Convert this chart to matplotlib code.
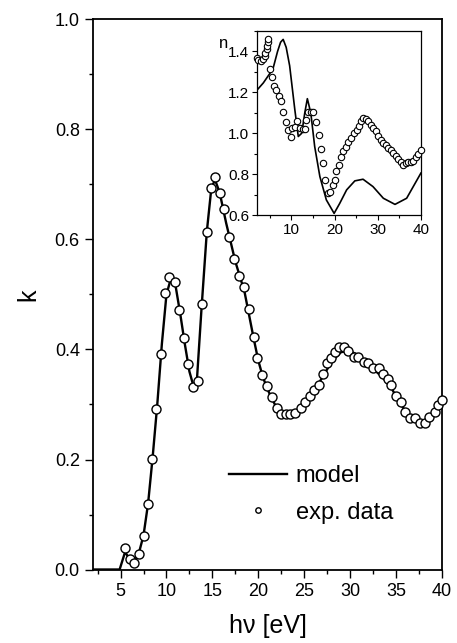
import numpy as np
import matplotlib
matplotlib.use("Agg")
import matplotlib.pyplot as plt
from matplotlib.ticker import MultipleLocator, FormatStrFormatter

plt.rcParams['font.family'] = ['Liberation Sans', 'DejaVu Sans']

# k(hv): experimental points and model curve
exp_e = [5.5, 6.0, 6.5, 7.0, 7.5, 8.0, 8.4, 8.9, 9.4, 9.8, 10.3, 10.9, 11.4,
         11.9, 12.4, 12.9, 13.4, 13.9, 14.4, 14.8, 15.3, 15.8, 16.3, 16.8,
         17.4, 17.9, 18.4, 19.0, 19.5, 19.9, 20.4, 21.0, 21.5, 22.0, 22.5,
         23.0, 23.5, 24.0, 24.6, 25.1, 25.6, 26.1, 26.6, 27.0, 27.5, 27.9,
         28.4, 28.8, 29.3, 29.8, 30.4, 30.9, 31.5, 32.0, 32.5, 33.1, 33.6,
         34.1, 34.5, 35.0, 35.5, 36.0, 36.5, 37.1, 37.6, 38.2, 38.6, 39.2,
         39.6, 40.0]
exp_k = [0.040, 0.019, 0.011, 0.029, 0.061, 0.120, 0.201, 0.291, 0.392, 0.502,
         0.532, 0.523, 0.472, 0.421, 0.373, 0.332, 0.343, 0.483, 0.613, 0.694,
         0.714, 0.684, 0.655, 0.604, 0.564, 0.534, 0.514, 0.473, 0.423, 0.384,
         0.354, 0.334, 0.313, 0.294, 0.283, 0.283, 0.283, 0.284, 0.294, 0.305,
         0.316, 0.326, 0.336, 0.355, 0.375, 0.385, 0.396, 0.405, 0.405, 0.397,
         0.387, 0.387, 0.378, 0.375, 0.366, 0.366, 0.355, 0.346, 0.335, 0.316,
         0.305, 0.286, 0.275, 0.275, 0.266, 0.266, 0.278, 0.287, 0.299, 0.308]

model_e = [2.0, 4.9, 5.5, 6.0, 6.4, 7.0, 7.5, 8.0, 8.5, 9.0, 9.5, 10.0, 10.5,
           11.0, 11.5, 12.0, 12.5, 13.0, 13.3, 13.8, 14.4, 14.9, 15.3, 15.8,
           16.5, 17.5, 18.5, 19.5, 20.0, 20.5, 21.0, 21.5, 22.0, 22.5, 23.2,
           24.0, 25.0, 26.0, 27.0, 28.0, 29.0, 29.8, 30.5, 31.5, 32.5, 33.5,
           34.5, 35.5, 36.5, 37.5, 38.3, 39.0, 40.0]
model_k = [0.0, 0.0, 0.032, 0.018, 0.012, 0.030, 0.062, 0.120, 0.205, 0.300,
           0.410, 0.500, 0.530, 0.515, 0.465, 0.410, 0.360, 0.330, 0.340, 0.470,
           0.615, 0.695, 0.708, 0.685, 0.630, 0.560, 0.505, 0.420, 0.380, 0.350,
           0.328, 0.310, 0.294, 0.284, 0.280, 0.283, 0.300, 0.322, 0.350, 0.378,
           0.395, 0.398, 0.393, 0.380, 0.365, 0.350, 0.330, 0.300, 0.278, 0.268,
           0.270, 0.283, 0.305]

# n(hv) for the inset
n_exp_e = [2.0, 2.3, 2.9, 3.5, 3.85, 4.0, 4.25, 4.4, 4.5, 4.6, 5.0, 5.55, 6.0,
           6.55, 7.15, 7.7, 8.1, 8.65, 9.25, 9.8, 10.2, 10.8, 11.35, 11.95,
           12.6, 13.1, 13.5, 13.9, 14.45, 15.05, 15.65, 16.3, 16.85, 17.4,
           17.9, 18.4, 18.9, 19.55, 20.05, 20.45, 21.0, 21.45, 22.0, 22.6,
           23.15, 23.8, 24.45, 25.1, 25.65, 26.1, 26.65, 27.2, 27.8, 28.35,
           28.95, 29.55, 30.1, 30.75, 31.25, 31.9, 32.4, 33.05, 33.6, 34.2,
           34.75, 35.35, 35.9, 36.5, 37.05, 37.7, 38.2, 38.85, 39.35, 39.95]
n_exp = [1.370, 1.357, 1.352, 1.361, 1.377, 1.394, 1.410, 1.429, 1.446, 1.462,
         1.312, 1.274, 1.233, 1.210, 1.180, 1.156, 1.102, 1.053, 1.014, 0.984,
         1.026, 1.030, 1.058, 1.028, 1.020, 1.022, 1.066, 1.102, 1.105, 1.102,
         1.053, 0.993, 0.924, 0.854, 0.772, 0.709, 0.714, 0.747, 0.772, 0.813,
         0.845, 0.886, 0.911, 0.935, 0.955, 0.979, 1.000, 1.017, 1.037, 1.058,
         1.075, 1.070, 1.058, 1.042, 1.026, 1.009, 0.988, 0.968, 0.952, 0.940,
         0.927, 0.916, 0.903, 0.890, 0.873, 0.857, 0.845, 0.854, 0.857, 0.857,
         0.866, 0.886, 0.899, 0.919]

n_model_e = [2.0, 3.5, 5.0, 5.8, 6.8, 7.5, 8.1, 8.8, 9.6, 10.8, 11.6, 12.4,
             13.1, 13.7, 14.5, 15.4, 16.6, 18.1, 19.9, 21.2, 22.8, 24.7, 26.6,
             28.9, 31.3, 34.0, 36.7, 40.0]
n_model = [1.210, 1.246, 1.292, 1.320, 1.400, 1.445, 1.459, 1.420, 1.330, 1.115,
           0.984, 1.000, 1.099, 1.169, 1.099, 0.935, 0.788, 0.674, 0.608, 0.657,
           0.723, 0.767, 0.775, 0.739, 0.682, 0.652, 0.682, 0.805]

fig = plt.figure(figsize=(4.57, 6.43), dpi=100)
ax = fig.add_axes([0.2035, 0.1143, 0.7635, 0.8554])

ax.plot(model_e, model_k, color='black', lw=1.7, label='model', zorder=2)
ax.plot(exp_e, exp_k, 'o', ms=6.5, mfc='white', mec='black', mew=1.0,
        label='exp. data', zorder=3, clip_on=False)

ax.set_xlim(2, 40)
ax.set_ylim(0, 1.0)
ax.xaxis.set_major_locator(MultipleLocator(5))
ax.xaxis.set_minor_locator(MultipleLocator(2.5))
ax.yaxis.set_major_locator(MultipleLocator(0.2))
ax.yaxis.set_minor_locator(MultipleLocator(0.1))
ax.yaxis.set_major_formatter(FormatStrFormatter('%.1f'))
ax.tick_params(which='both', direction='out', top=False, right=False,
               labelsize=13, width=1.0)
ax.tick_params(which='major', length=6)
ax.tick_params(which='minor', length=3)
for sp in ax.spines.values():
    sp.set_linewidth(1.3)

ax.set_xlabel('h\u03bd [eV]', fontsize=18, labelpad=10)
ax.set_ylabel('k', fontsize=18, labelpad=10)

leg = ax.legend(loc='upper left', bbox_to_anchor=(0.39, 0.19), frameon=False,
                fontsize=17, handlelength=2.45, handletextpad=0.38,
                labelspacing=0.62, borderpad=0, borderaxespad=0, markerscale=0.6)

# inset with the refractive index
ins = fig.add_axes([0.562, 0.6656, 0.359, 0.2862])
ins.plot(n_model_e, n_model, color='black', lw=1.2, zorder=2)
ins.plot(n_exp_e, n_exp, 'o', ms=4.6, mfc='white', mec='black', mew=0.8,
         zorder=3, clip_on=False)
ins.set_xlim(2, 40)
ins.set_ylim(0.6, 1.5)
ins.xaxis.set_major_locator(MultipleLocator(10))
ins.xaxis.set_minor_locator(MultipleLocator(5))
ins.yaxis.set_major_locator(MultipleLocator(0.2))
ins.yaxis.set_minor_locator(MultipleLocator(0.1))
ins.yaxis.set_major_formatter(FormatStrFormatter('%.1f'))
ins.tick_params(which='both', direction='out', top=False, right=False,
                labelsize=11, width=0.8, pad=2)
ins.tick_params(which='major', length=3.5)
ins.tick_params(which='minor', length=2)
for sp in ins.spines.values():
    sp.set_linewidth(0.9)
ins.text(-0.2, 0.93, 'n', transform=ins.transAxes, fontsize=12,
         ha='center', va='center')

fig.savefig('out.png', dpi=100)
